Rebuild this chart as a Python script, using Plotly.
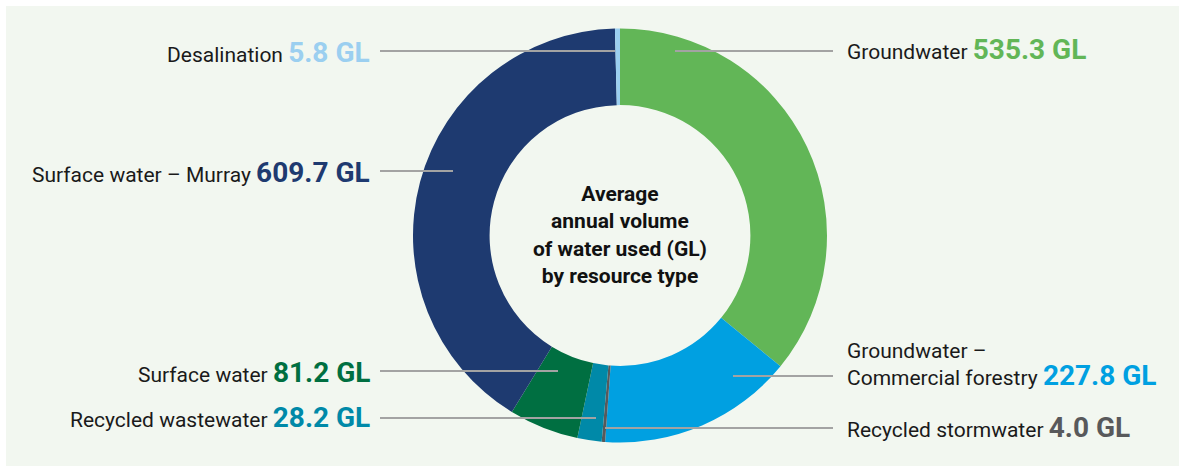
import plotly.graph_objects as go

# Average annual volume of water used by resource type (GL)
resources = [
    "Groundwater",
    "Groundwater – Commercial forestry",
    "Recycled stormwater",
    "Recycled wastewater",
    "Surface water",
    "Surface water – Murray",
    "Desalination",
]
volumes_gl = [535.3, 227.8, 4.0, 28.2, 81.2, 609.7, 5.8]
colours = ["#62b657", "#00a0e1", "#58595b", "#0089a8", "#006f41", "#1e3a70", "#9bcff0"]

W, H = 1179, 466
BG = "#f2f7f0"
FONT = "Roboto"
HOLE = 0.63


def px(x):
    return x / W


def py(y):
    return 1 - y / H


# Donut geometry (pixels)
cx, cy, r_out = 620, 235.5, 207

fig = go.Figure(
    go.Pie(
        labels=resources,
        values=volumes_gl,
        marker=dict(colors=colours, line=dict(width=0)),
        hole=HOLE,
        sort=False,
        direction="clockwise",
        rotation=0,
        textinfo="none",
        hovertemplate="%{label}: %{value:.1f} GL<extra></extra>",
        domain=dict(x=[px(cx - r_out), px(cx + r_out)], y=[py(cy + r_out), py(cy - r_out)]),
        showlegend=False,
    )
)

# Label layout: side, leader y, leader start/end x, label text y
label_layout = {
    "Groundwater": dict(side="right", y=51, x0=675, x1=833, ty=50),
    "Groundwater – Commercial forestry": dict(side="right", y=376, x0=733, x1=833, ty=365),
    "Recycled stormwater": dict(side="right", y=428, x0=605, x1=833, ty=427),
    "Recycled wastewater": dict(side="left", y=418, x0=380, x1=596, ty=417),
    "Surface water": dict(side="left", y=371, x0=380, x1=558, ty=372),
    "Surface water – Murray": dict(side="left", y=171, x0=380, x1=453, ty=172),
    "Desalination": dict(side="left", y=51, x0=380, x1=615, ty=52),
}

r_in = HOLE * r_out - 1
shapes = [
    # White frame strips along the top and left edges of the panel
    dict(type="rect", xref="paper", yref="paper", x0=0, x1=1, y0=py(6), y1=1,
         fillcolor="white", line=dict(width=0), layer="above"),
    dict(type="rect", xref="paper", yref="paper", x0=0, x1=px(6), y0=0, y1=1,
         fillcolor="white", line=dict(width=0), layer="above"),
    # Panel-coloured fill inside the donut hole
    dict(type="circle", xref="paper", yref="paper",
         x0=px(cx - r_in), x1=px(cx + r_in), y0=py(cy + r_in), y1=py(cy - r_in),
         fillcolor=BG, line=dict(width=0), layer="above"),
]
annotations = []
for name, vol, col in zip(resources, volumes_gl, colours):
    lay = label_layout[name]
    shapes.append(dict(type="line", xref="paper", yref="paper",
                       x0=px(lay["x0"]), x1=px(lay["x1"]), y0=py(lay["y"]), y1=py(lay["y"]),
                       line=dict(color="#a3a3a3", width=2), layer="above"))
    value = f"<b><span style='color:{col};font-size:28px'>{vol:.1f} GL</span></b>"
    if name == "Groundwater – Commercial forestry":
        text = f"Groundwater –<br>Commercial forestry {value}"
    else:
        text = f"{name} {value}"
    right = lay["side"] == "right"
    annotations.append(dict(x=px(845 if right else 372), y=py(lay["ty"]),
                            xref="paper", yref="paper",
                            xanchor="left" if right else "right", yanchor="middle",
                            align="left" if right else "right",
                            text=text, showarrow=False,
                            font=dict(family=FONT, size=21, color="#1a1a1a")))

annotations.append(dict(
    x=px(cx), y=py(cy - 1), xref="paper", yref="paper", xanchor="center", yanchor="middle",
    text="<b>Average<br>annual volume<br>of water used (GL)<br>by resource type</b>",
    showarrow=False, align="center",
    font=dict(family=FONT, size=21, color="#111111"),
))

fig.update_layout(
    width=W, height=H,
    margin=dict(l=0, r=0, t=0, b=0),
    paper_bgcolor=BG,
    plot_bgcolor=BG,
    shapes=shapes,
    annotations=annotations,
    font=dict(family=FONT),
)

fig.write_html("out.html")
